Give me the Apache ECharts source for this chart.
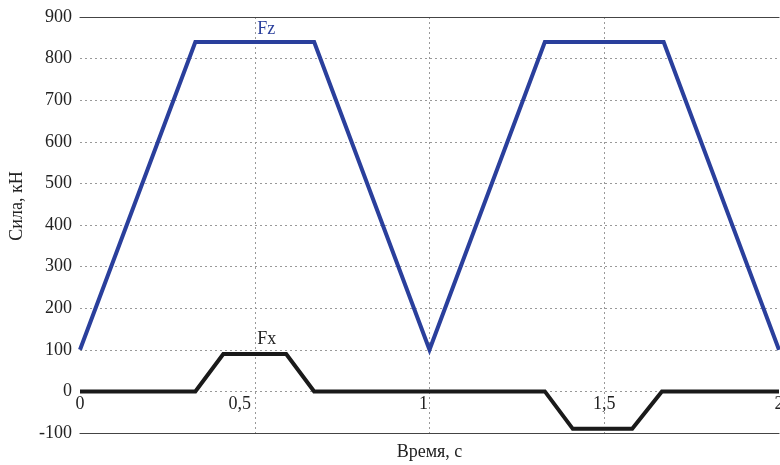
<!DOCTYPE html>
<html lang="ru">
<head>
    <meta charset="UTF-8">
    <title>Сила от времени</title>
    <script src="https://cdn.jsdelivr.net/npm/echarts@6/dist/echarts.min.js"></script>
    <style>
        body { margin: 0; background: #fff; }
        #chart { width: 780px; height: 465px; }
    </style>
</head>
<body>
    <div id="chart"></div>
    <script>
        // данные: время (с) и сила (кН)
        const fzTime = [0, 0.33, 0.67, 1, 1.33, 1.67, 2];
        const fzForce = [100, 840, 840, 100, 840, 840, 100];
        const fxTime = [0, 0.33, 0.41, 0.59, 0.67, 1.33, 1.41, 1.58, 1.665, 2];
        const fxForce = [0, 0, 90, 90, 0, 0, -90, -90, 0, 0];
        const xTickLabels = { 0: '0', 0.5: '0,5', 1: '1', 1.5: '1,5', 2: '2' };

        const FONT = '"Liberation Serif", "DejaVu Serif", serif';
        const BLUE = '#2a3f9c';

        // в оригинале подписи 0,5 и 1 сдвинуты левее линии сетки
        const labelStyleKey = { 0.5: 'a', 1: 'b' };

        const chart = echarts.init(document.getElementById('chart'));

        const option = {
            animation: false,
            backgroundColor: '#fff',
            textStyle: { fontFamily: FONT },
            grid: { left: 80, right: 1, top: 17, bottom: 32, outerBoundsMode: 'none', containLabel: false },
            xAxis: [{
                type: 'value',
                min: 0, max: 2, interval: 0.5,
                position: 'bottom',
                axisLine: { onZero: false, lineStyle: { color: '#444', width: 1.2 } },
                axisTick: { show: false },
                axisLabel: {
                    margin: -38,
                    fontSize: 18, color: '#222', fontFamily: FONT,
                    formatter: v => {
                        const txt = xTickLabels[v] ?? '';
                        const k = labelStyleKey[v];
                        return k ? `{${k}|${txt}}` : txt;
                    },
                    rich: {
                        a: { fontSize: 18, color: '#222', fontFamily: FONT, padding: [0, 30, 0, 0] },
                        b: { fontSize: 18, color: '#222', fontFamily: FONT, padding: [0, 12, 0, 0] }
                    }
                },
                splitLine: {
                    show: true, showMinLine: false, showMaxLine: false,
                    lineStyle: { type: [2, 3], color: '#999' }
                },
                name: 'Время, с',
                nameLocation: 'middle',
                nameGap: 10,
                nameTextStyle: { fontSize: 18, color: '#222', fontFamily: FONT, verticalAlign: 'top' }
            }, {
                type: 'value',
                min: 0, max: 2,
                position: 'top',
                axisLine: { onZero: false, lineStyle: { color: '#444', width: 1.2 } },
                axisTick: { show: false },
                axisLabel: { show: false },
                splitLine: { show: false }
            }],
            yAxis: {
                type: 'value',
                min: -100, max: 900, interval: 100,
                axisLine: { show: false },
                axisTick: { show: false },
                axisLabel: { margin: 8, fontSize: 18, color: '#222', fontFamily: FONT },
                splitLine: {
                    show: true, showMinLine: false, showMaxLine: false,
                    lineStyle: { type: [2, 3], color: '#999' }
                },
                name: 'Сила, кН',
                nameLocation: 'middle',
                nameGap: 54,
                nameRotate: 90,
                nameTextStyle: { fontSize: 18, color: '#222', fontFamily: FONT, padding: [0, 0, 0, 38] }
            },
            series: [{
                name: 'Fz',
                type: 'line',
                data: fzTime.map((t, i) => [t, fzForce[i]]),
                symbol: 'none',
                lineStyle: { color: BLUE, width: 4, join: 'miter' },
                markPoint: {
                    symbol: 'circle',
                    symbolSize: 1,
                    itemStyle: { color: 'rgba(0,0,0,0)' },
                    silent: true,
                    data: [{ coord: [0.5, 870], value: 'Fz' }],
                    label: { show: true, position: 'right', distance: 2, formatter: 'Fz',
                        color: BLUE, fontSize: 18, fontFamily: FONT }
                }
            }, {
                name: 'Fx',
                type: 'line',
                data: fxTime.map((t, i) => [t, fxForce[i]]),
                symbol: 'none',
                lineStyle: { color: '#1a1a1a', width: 4, join: 'miter' },
                markPoint: {
                    symbol: 'circle',
                    symbolSize: 1,
                    itemStyle: { color: 'rgba(0,0,0,0)' },
                    silent: true,
                    data: [{ coord: [0.5, 126], value: 'Fx' }],
                    label: { show: true, position: 'right', distance: 2, formatter: 'Fx',
                        color: '#222', fontSize: 18, fontFamily: FONT }
                }
            }]
        };

        chart.setOption(option);
    </script>
</body>
</html>
